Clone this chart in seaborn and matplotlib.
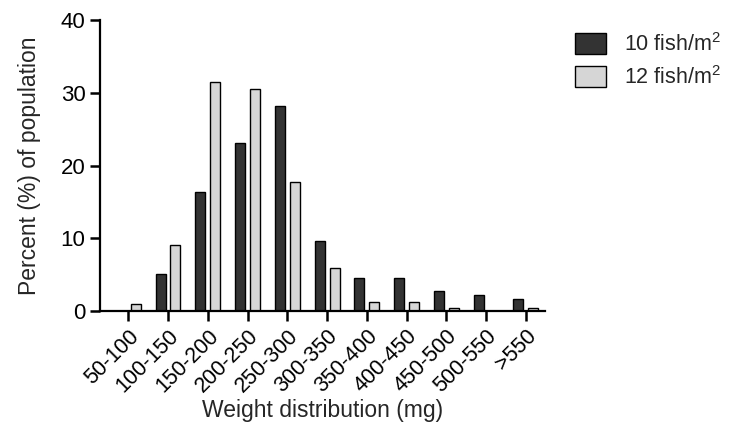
import matplotlib
matplotlib.use("Agg")
import matplotlib.pyplot as plt
import seaborn as sns
import pandas as pd
from matplotlib.patches import Patch

categories = ["50-100", "100-150", "150-200", "200-250", "250-300", "300-350",
              "350-400", "400-450", "450-500", "500-550", ">550"]
fish10 = [0.0, 5.1, 16.3, 23.1, 28.2, 9.6, 4.5, 4.5, 2.8, 2.2, 1.6]
fish12 = [0.9, 9.1, 31.5, 30.5, 17.8, 5.9, 1.3, 1.3, 0.4, 0.0, 0.4]
series = ["10 fish/m$^2$", "12 fish/m$^2$"]
colors = ["#333333", "#d6d6d6"]

df = pd.DataFrame({
    "cat": categories * 2,
    "val": fish10 + fish12,
    "series": [series[0]] * len(categories) + [series[1]] * len(categories),
})

sns.set_style("ticks")
plt.rcParams["font.family"] = ["Liberation Sans", "DejaVu Sans"]
plt.rcParams["mathtext.fontset"] = "custom"
plt.rcParams["mathtext.rm"] = "Liberation Sans"

fig = plt.figure(figsize=(7.32, 4.29), dpi=100)
ax = fig.add_axes([100 / 732, 1 - 311 / 429, 445 / 732, 291 / 429])

sns.barplot(data=df, x="cat", y="val", hue="series", order=categories,
            hue_order=series, palette=colors, width=0.75, gap=0.33,
            edgecolor="black", linewidth=1.0, ax=ax, legend=False)

ax.set_ylim(0, 40)
ax.set_xlim(-0.71, 10.48)
ax.set_yticks([0, 10, 20, 30, 40])
for s in ["top", "right"]:
    ax.spines[s].set_visible(False)
for s in ["left", "bottom"]:
    ax.spines[s].set_linewidth(1.6)
    ax.spines[s].set_color("black")
ax.tick_params(axis="both", width=1.8, length=7, labelsize=16, color="black",
               labelcolor="black", direction="out")
ax.tick_params(axis="x", labelsize=15.5)
ax.set_xticks(range(len(categories)))
ax.set_xticklabels(categories, rotation=45, ha="right", rotation_mode="anchor")
ax.set_xlabel("Weight distribution (mg)", fontsize=16.5, labelpad=2)
ax.set_ylabel("Percent (%) of population", fontsize=16.5, labelpad=14)

handles = [Patch(facecolor=c, edgecolor="black", linewidth=1.0) for c in colors]
fig.legend(handles, series, loc="upper left", bbox_to_anchor=(558 / 732, 1 - 16 / 429),
           frameon=False, fontsize=15.5, handlelength=1.45, handleheight=1.1,
           handletextpad=0.8, labelspacing=0.45, borderpad=0.3)

fig.savefig("out.png", dpi=100)
